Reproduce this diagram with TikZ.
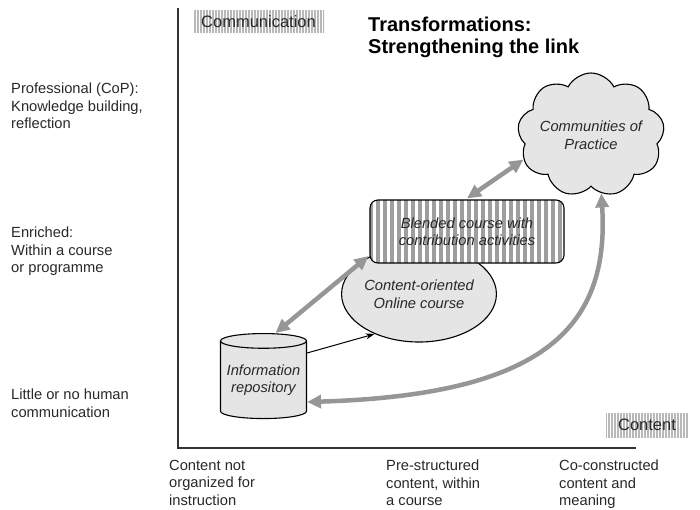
\documentclass[tikz,border=0pt]{standalone}
\usepackage{fontspec}
\setmainfont{Liberation Sans}
\usetikzlibrary{shapes.geometric,shapes.symbols,arrows.meta,patterns.meta}

\definecolor{shapefill}{RGB}{229,229,229}
\definecolor{arrowgray}{RGB}{150,150,150}
\definecolor{inkgray}{RGB}{40,40,40}

\tikzset{
  basefont/.style={font=\fontsize{14.7}{17.5}\selectfont, text=inkgray},
  axistext/.style={basefont, anchor=north west, align=left, inner sep=0pt},
  titletext/.style={font=\fontsize{20}{22}\selectfont\bfseries, anchor=north west, align=left, inner sep=0pt},
  axisline/.style={draw=black!80, line width=1.5pt},
  tagbox/.style={font=\fontsize{16.5}{18}\selectfont, text=inkgray, inner sep=0pt,
    pattern={Lines[angle=90, distance=3pt, line width=1.3pt]}, pattern color=black!28},
  shapetext/.style={basefont, font=\fontsize{14.7}{17.5}\selectfont\itshape, align=center, inner sep=0pt},
  repobox/.style={shapetext, cylinder, shape border rotate=90, aspect=0.2, draw, line width=1.1pt,
    fill=shapefill, minimum width=86pt, minimum height=85pt},
  coursebox/.style={shapetext, ellipse, draw, line width=1.1pt, fill=shapefill,
    minimum width=122pt, minimum height=96pt},
  blendedbox/.style={shapetext, rectangle, rounded corners=8pt, draw, line width=1.1pt,
    preaction={fill=white}, pattern={Lines[angle=90, distance=7pt, line width=3.2pt]},
    pattern color=black!38, minimum width=194pt, minimum height=63pt},
  copbox/.style={shapetext, cloud, cloud puffs=9, cloud puff arc=125, cloud ignores aspect,
    draw, line width=1.1pt, fill=shapefill, minimum width=147pt, minimum height=124pt},
  twoway/.style={draw=arrowgray, line width=4.5pt,
    {Triangle[length=14pt, width=13pt]}-{Triangle[length=14pt, width=13pt]}},
  oneway/.style={draw=black, line width=1pt, -{Stealth[length=9pt, width=6pt]}}
}

\begin{document}
\begin{tikzpicture}[x=1pt,y=-1pt]
  \useasboundingbox (0,0) rectangle (700,509);

  % axes
  \coordinate (ytop) at (178,8);
  \coordinate (origin) at (178,448);
  \coordinate (xend) at (636,448);
  \draw[axisline] (ytop) -- (origin) -- (xend);

  \node[tagbox, minimum width=131pt, minimum height=23pt] (comm) at (258.5,21.5) {Communication};
  \node[tagbox, minimum width=82pt, minimum height=24pt] (cont) at (647,425) {Content};

  \node[titletext] (title) at (368,17) {Transformations:\\Strengthening the link};

  % levels of communication
  \node[axistext] (prof) at (11,83) {Professional (CoP):\\Knowledge building,\\reflection};
  \node[axistext] (enriched) at (11,227) {Enriched:\\Within a course\\or programme};
  \node[axistext] (little) at (11,389) {Little or no human\\communication};

  % levels of content
  \node[axistext] (notorg) at (169,460) {Content not\\organized for\\instruction};
  \node[axistext] (prestr) at (386,460) {Pre-structured\\content, within\\a course};
  \node[axistext] (cocons) at (559,460) {Co-constructed\\content and\\meaning};

  % stages
  \node[repobox] (repo) at (263.5,380) {Information\\repository};
  \node[coursebox] (course) at (419,294) {Content-oriented\\Online course};
  \node[blendedbox] (blended) at (467,231.5) {Blended course with\\contribution activities};
  \node[copbox] (cop) at (591,135) {Communities of\\Practice};

  % links
  \draw[twoway] ([xshift=12pt]repo.north) -- (blended.194);
  \draw[twoway] (blended.north) -- (cop.200);
  \draw[twoway] ([yshift=-22pt]repo.east) .. controls (540,395) and (610,330) .. (cop.-80);
  \draw[oneway] ([yshift=27pt]repo.east) -- (course.222);

\end{tikzpicture}
\end{document}
